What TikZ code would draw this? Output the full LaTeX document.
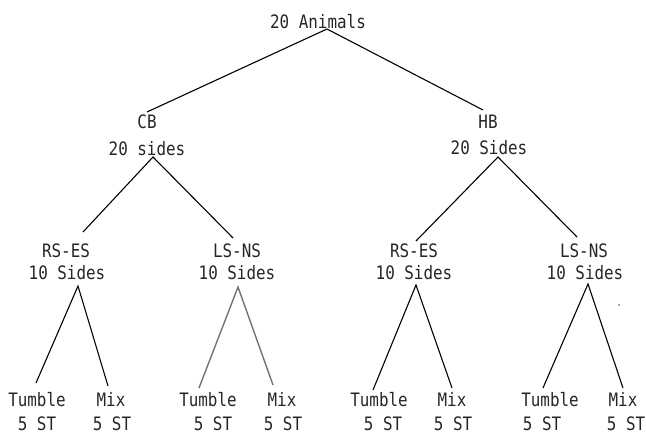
\documentclass[tikz,border=0pt]{standalone}
\usepackage{fontspec}
\newfontfamily\plotfont[FakeStretch=0.86]{DejaVu Sans Mono}
\begin{document}
\begin{tikzpicture}[x=1pt,y=-1pt,
  lbl/.style={anchor=base,inner sep=0pt,font=\plotfont\fontsize{18.5}{22}\selectfont,text=black!85},
  edge/.style={line width=1.1pt,black},
  fadededge/.style={line width=1.4pt,black!55}]
\useasboundingbox (0,0) rectangle (646,434);
% labels
\node[lbl] (root) at (318,28) {20 Animals};
\node[lbl] (cb) at (147,128) {CB};
\node[lbl] (cbs) at (147,155) {20 sides};
\node[lbl] (hb) at (488,128) {HB};
\node[lbl] (hbs) at (489,154) {20 Sides};
\node[lbl] (rsa) at (66,257) {RS-ES};
\node[lbl] (rsas) at (67,279) {10 Sides};
\node[lbl] (lsa) at (237,257) {LS-NS};
\node[lbl] (lsas) at (237,279) {10 Sides};
\node[lbl] (rsb) at (414,257) {RS-ES};
\node[lbl] (rsbs) at (414,279) {10 Sides};
\node[lbl] (lsb) at (584,257) {LS-NS};
\node[lbl] (lsbs) at (585,279) {10 Sides};
% leaves
\node[lbl] (t1) at (37,406) {Tumble};
\node[lbl] (t1s) at (37,430) {5 ST};
\node[lbl] (m1) at (111,406) {Mix};
\node[lbl] (m1s) at (112,430) {5 ST};
\node[lbl] (t2) at (208,406) {Tumble};
\node[lbl] (t2s) at (213,430) {5 ST};
\node[lbl] (m2) at (282,406) {Mix};
\node[lbl] (m2s) at (283,430) {5 ST};
\node[lbl] (t3) at (379,406) {Tumble};
\node[lbl] (t3s) at (383,430) {5 ST};
\node[lbl] (m3) at (452,406) {Mix};
\node[lbl] (m3s) at (453,430) {5 ST};
\node[lbl] (t4) at (550,406) {Tumble};
\node[lbl] (t4s) at (542,430) {5 ST};
\node[lbl] (m4) at (623,406) {Mix};
\node[lbl] (m4s) at (626,430) {5 ST};
% attachment points
\coordinate (rootB) at (327,29);
\coordinate (cbT) at (147,112);
\coordinate (hbT) at (483,110);
\coordinate (cbB) at (153,157);
\coordinate (hbB) at (498,157);
\coordinate (rsaT) at (83,232);
\coordinate (lsaT) at (233,238);
\coordinate (rsbT) at (416,241);
\coordinate (lsbT) at (577,237);
\coordinate (rsaB) at (78,286);
\coordinate (lsaB) at (238,287);
\coordinate (rsbB) at (416,285);
\coordinate (lsbB) at (588,284);
\coordinate (t1T) at (36,383);
\coordinate (m1T) at (108,386);
\coordinate (t2T) at (199,388);
\coordinate (m2T) at (273,385);
\coordinate (t3T) at (373,390);
\coordinate (m3T) at (452,388);
\coordinate (t4T) at (543,388);
\coordinate (m4T) at (623,388);
% connectors
\draw[edge] (cbT) -- (rootB) -- (hbT);
\draw[edge] (rsaT) -- (cbB) -- (lsaT);
\draw[edge] (rsbT) -- (hbB) -- (lsbT);
\draw[edge] (t1T) -- (rsaB) -- (m1T);
\draw[fadededge] (t2T) -- (lsaB) -- (m2T);
\draw[edge] (t3T) -- (rsbB) -- (m3T);
\draw[edge] (t4T) -- (lsbB) -- (m4T);
\fill[black!70] (619,305) circle (0.9);
\end{tikzpicture}
\end{document}
